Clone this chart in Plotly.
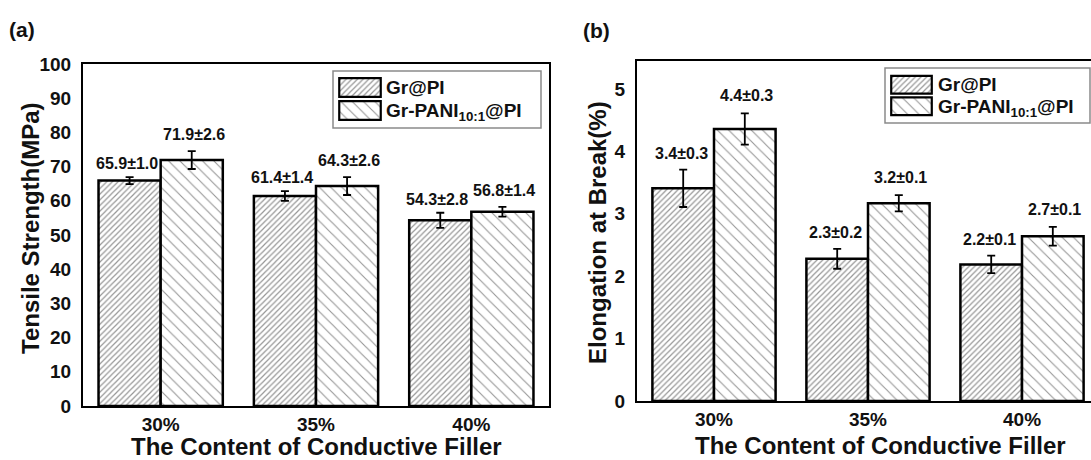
import plotly.graph_objects as go

# ---------------- data ----------------
categories = ["30%", "35%", "40%"]
series_names = ["Gr@PI", "Gr-PANI<sub>10:1</sub>@PI"]

tensile_gr = [65.9, 61.4, 54.3]
tensile_gr_err = [1.0, 1.4, 2.2]
tensile_pani = [71.9, 64.3, 56.8]
tensile_pani_err = [2.6, 2.6, 1.4]
tensile_gr_labels = ["65.9±1.0", "61.4±1.4", "54.3±2.8"]
tensile_pani_labels = ["71.9±2.6", "64.3±2.6", "56.8±1.4"]

elong_gr = [3.41, 2.28, 2.19]
elong_gr_err = [0.30, 0.16, 0.14]
elong_pani = [4.36, 3.17, 2.64]
elong_pani_err = [0.25, 0.13, 0.15]
elong_gr_labels = ["3.4±0.3", "2.3±0.2", "2.2±0.1"]
elong_pani_labels = ["4.4±0.3", "3.2±0.1", "2.7±0.1"]

# ---------------- layout helpers ----------------
W, H = 1091, 460
FONT = "Liberation Sans, Arial, Helvetica, sans-serif"
INK = "#111111"


def px(x):
    return x / W


def py(y):
    return 1 - y / H


pat_gr = dict(shape="/", size=4, solidity=0.3, fgcolor="#2e2e2e", bgcolor="white")
pat_pani = dict(shape="\\", size=8, solidity=0.14, fgcolor="#2e2e2e", bgcolor="white")
bar_line = dict(color="black", width=2.5)
err_style = dict(type="data", color="black", thickness=1.8, width=4, visible=True)

fig = go.Figure()

# panel (a)
fig.add_trace(go.Bar(x=categories, y=tensile_gr, name="Gr@PI",
                     marker=dict(color="white", pattern=pat_gr, line=bar_line),
                     error_y=dict(array=tensile_gr_err, **err_style),
                     xaxis="x", yaxis="y", showlegend=False))
fig.add_trace(go.Bar(x=categories, y=tensile_pani, name="Gr-PANI",
                     marker=dict(color="white", pattern=pat_pani, line=bar_line),
                     error_y=dict(array=tensile_pani_err, **err_style),
                     xaxis="x", yaxis="y", showlegend=False))
# panel (b)
fig.add_trace(go.Bar(x=categories, y=elong_gr, name="Gr@PI",
                     marker=dict(color="white", pattern=pat_gr, line=bar_line),
                     error_y=dict(array=elong_gr_err, **err_style),
                     xaxis="x2", yaxis="y2", showlegend=False))
fig.add_trace(go.Bar(x=categories, y=elong_pani, name="Gr-PANI",
                     marker=dict(color="white", pattern=pat_pani, line=bar_line),
                     error_y=dict(array=elong_pani_err, **err_style),
                     xaxis="x2", yaxis="y2", showlegend=False))

# legend swatches (patterned boxes) drawn as small bars on helper axes
for xa, ya in (("x3", "y3"), ("x4", "y4")):
    fig.add_trace(go.Bar(x=[1], y=[1], orientation="h", width=[0.82], offset=-0.41,
                         marker=dict(color="white", pattern=pat_gr, line=dict(color="black", width=2.2)),
                         xaxis=xa, yaxis=ya, showlegend=False, hoverinfo="skip"))
    fig.add_trace(go.Bar(x=[1], y=[0], orientation="h", width=[0.82], offset=-0.41,
                         marker=dict(color="white", pattern=pat_pani, line=dict(color="black", width=2.2)),
                         xaxis=xa, yaxis=ya, showlegend=False, hoverinfo="skip"))

tickfont = dict(family=FONT, size=19, color=INK, weight="bold")
common_x = dict(type="category", showline=True, linecolor="black", linewidth=2,
                mirror=True, showgrid=False, zeroline=False, ticks="", automargin=False,
                tickfont=tickfont, ticklabelstandoff=0)
common_y = dict(showline=True, linecolor="black", linewidth=2, showgrid=False, automargin=False,
                zeroline=False, ticks="", tickfont=tickfont, ticklabelstandoff=6)

hidden = dict(visible=False, showgrid=False, zeroline=False, fixedrange=True, automargin=False)

fig.update_layout(
    width=W, height=H,
    margin=dict(l=0, r=0, t=0, b=0, pad=0, autoexpand=False),
    paper_bgcolor="white", plot_bgcolor="white",
    barmode="group", bargap=0.2, bargroupgap=0,
    showlegend=False,
    font=dict(family=FONT, color=INK),
    xaxis=dict(domain=[px(83), px(549)], range=[-0.5, 2.5], anchor="y", **common_x),
    yaxis=dict(domain=[py(406), py(64)], range=[0, 100], dtick=10, anchor="x",
               mirror=True, **common_y),
    xaxis2=dict(domain=[px(637), 1.0], range=[-0.5, 2.448], anchor="y2", **common_x),
    yaxis2=dict(domain=[py(401), py(61)], range=[0, 5.45], dtick=1, anchor="x2",
                mirror=False, **common_y),
    xaxis3=dict(domain=[px(338), px(382)], range=[-0.03, 1.03], anchor="y3", **hidden),
    yaxis3=dict(domain=[py(122), py(76)], range=[-0.5, 1.5], anchor="x3", **hidden),
    xaxis4=dict(domain=[px(890), px(933)], range=[-0.03, 1.03], anchor="y4", **hidden),
    yaxis4=dict(domain=[py(117), py(74)], range=[-0.5, 1.5], anchor="x4", **hidden),
)

annotations = []
label_font = dict(family=FONT, size=16, color=INK, weight="bold")
for i in range(len(categories)):
    annotations.append(dict(x=i - 0.2, y=tensile_gr[i] + tensile_gr_err[i], xref="x", yref="y",
                            text=tensile_gr_labels[i], showarrow=False, yanchor="bottom",
                            xanchor="center", xshift=-3, yshift=3, font=label_font))
    annotations.append(dict(x=i + 0.2, y=tensile_pani[i] + tensile_pani_err[i], xref="x", yref="y",
                            text=tensile_pani_labels[i], showarrow=False, yanchor="bottom",
                            xanchor="center", xshift=2, yshift=6, font=label_font))
    annotations.append(dict(x=i - 0.2, y=elong_gr[i] + elong_gr_err[i], xref="x2", yref="y2",
                            text=elong_gr_labels[i], showarrow=False, yanchor="bottom",
                            xanchor="center", xshift=-2, yshift=6, font=label_font))
    annotations.append(dict(x=i + 0.2, y=elong_pani[i] + elong_pani_err[i], xref="x2", yref="y2",
                            text=elong_pani_labels[i], showarrow=False, yanchor="bottom",
                            xanchor="center", xshift=2, yshift=7, font=label_font))

title_font = dict(family=FONT, size=24, color=INK, weight="bold")
panel_font = dict(family=FONT, size=21, color=INK, weight="bold")
legend_font = dict(family=FONT, size=19, color=INK, weight="bold")


def paper_text(x, y, text, font, xanchor="center", angle=0):
    return dict(x=px(x), y=py(y), xref="paper", yref="paper", text=text, textangle=angle,
                showarrow=False, font=font, xanchor=xanchor, yanchor="middle")


annotations += [
    paper_text(30, 228, "Tensile Strength(MPa)", title_font, angle=-90),
    paper_text(598, 233, "Elongation at Break(%)", title_font, angle=-90),
    paper_text(316, 446, "The Content of Conductive Filler", title_font),
    paper_text(880, 445, "The Content of Conductive Filler", title_font),
    paper_text(22, 30, "(a)", panel_font),
    paper_text(596, 31, "(b)", panel_font),
    # legend texts
    paper_text(384, 87, series_names[0], legend_font, xanchor="left"),
    paper_text(384, 112, series_names[1], legend_font, xanchor="left"),
    paper_text(936, 84, series_names[0], legend_font, xanchor="left"),
    paper_text(936, 108, series_names[1], legend_font, xanchor="left"),
]

shapes = [
    dict(type="rect", xref="paper", yref="paper", x0=px(333), x1=px(541), y0=py(128), y1=py(71),
         line=dict(color="#8a8a8a", width=1.5), fillcolor="rgba(0,0,0,0)", layer="above"),
    dict(type="rect", xref="paper", yref="paper", x0=px(885), x1=px(1090), y0=py(123), y1=py(68),
         line=dict(color="#8a8a8a", width=1.5), fillcolor="rgba(0,0,0,0)", layer="above"),
]

fig.update_layout(annotations=annotations, shapes=shapes)

fig.write_html("out.html")
